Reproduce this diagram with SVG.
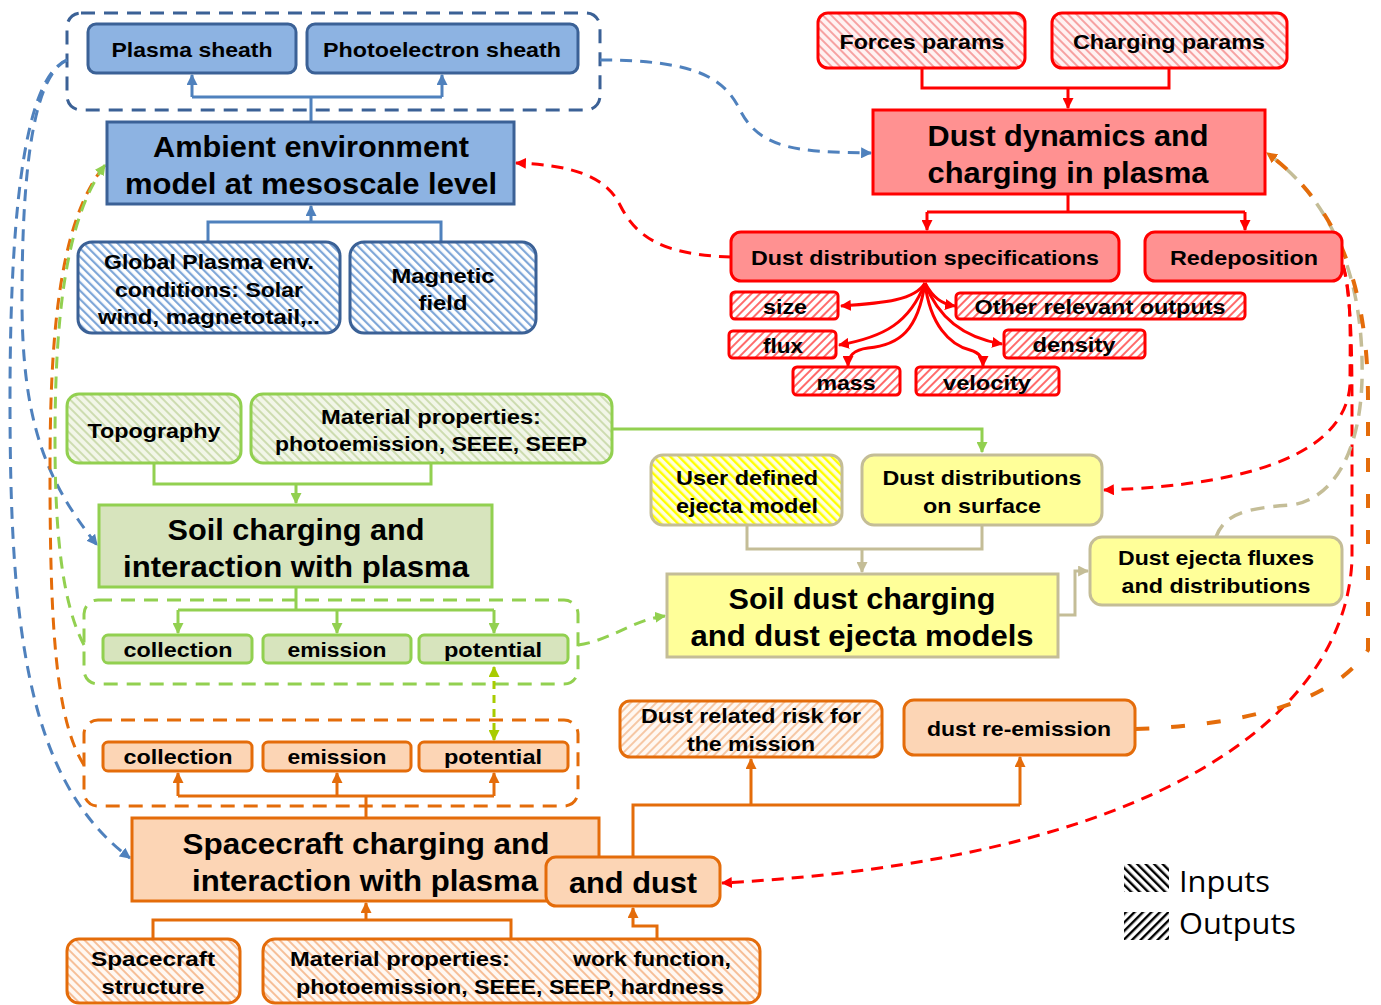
<svg xmlns="http://www.w3.org/2000/svg" width="1381" height="1005" viewBox="0 0 1381 1005">
<style>
text{font-family:"Liberation Sans",Arial,sans-serif;font-weight:bold;fill:#000;text-anchor:middle}
.s{font-size:21px}
.b{font-size:29px}
.lg{font-size:30px;font-weight:normal;text-anchor:start;font-family:"Open Sans","Liberation Sans",sans-serif}
.cb{fill:none;stroke:#4f81bd;stroke-width:3}
.cr{fill:none;stroke:#ff0000;stroke-width:3}
.cg{fill:none;stroke:#92d050;stroke-width:3}
.cy{fill:none;stroke:#c4bd97;stroke-width:3}
.co{fill:none;stroke:#e46c0a;stroke-width:3}
.d{stroke-dasharray:12 8}
.nb{fill:#8db3e2;stroke:#3b6196;stroke-width:3}
.nr{fill:#ff9191;stroke:#ff0000;stroke-width:3}
.ng{fill:#d7e4bd;stroke:#92d050;stroke-width:3}
.ny{fill:#ffff99;stroke:#c4bd97;stroke-width:3}
.no{fill:#fcd5b5;stroke:#e46c0a;stroke-width:3}
</style>
<defs>
<pattern id="ib" width="6" height="6" patternUnits="userSpaceOnUse" patternTransform="rotate(-45)"><rect width="6" height="6" fill="#ffffff"/><rect width="2.2" height="6" fill="#7fa7d8"/></pattern>
<pattern id="ir" width="6" height="6" patternUnits="userSpaceOnUse" patternTransform="rotate(-45)"><rect width="6" height="6" fill="#fff2f2"/><rect width="2" height="6" fill="#f6a2a2"/></pattern>
<pattern id="or" width="6" height="6" patternUnits="userSpaceOnUse" patternTransform="rotate(45)"><rect width="6" height="6" fill="#ffffff"/><rect width="2" height="6" fill="#ff6b6b"/></pattern>
<pattern id="ig" width="6" height="6" patternUnits="userSpaceOnUse" patternTransform="rotate(-45)"><rect width="6" height="6" fill="#f2f6e8"/><rect width="2" height="6" fill="#cddcb0"/></pattern>
<pattern id="iy" width="6" height="6" patternUnits="userSpaceOnUse" patternTransform="rotate(-45)"><rect width="6" height="6" fill="#ffffdd"/><rect width="2.4" height="6" fill="#ffff00"/></pattern>
<pattern id="io" width="6" height="6" patternUnits="userSpaceOnUse" patternTransform="rotate(-45)"><rect width="6" height="6" fill="#fff8f2"/><rect width="2" height="6" fill="#f6bf98"/></pattern>
<pattern id="oo" width="6" height="6" patternUnits="userSpaceOnUse" patternTransform="rotate(45)"><rect width="6" height="6" fill="#fff8f2"/><rect width="2" height="6" fill="#f6c7a4"/></pattern>
<pattern id="li" width="6" height="6" patternUnits="userSpaceOnUse" patternTransform="rotate(-45)"><rect width="6" height="6" fill="#ffffff"/><rect width="2.4" height="6" fill="#000"/></pattern>
<pattern id="lo" width="6" height="6" patternUnits="userSpaceOnUse" patternTransform="rotate(45)"><rect width="6" height="6" fill="#ffffff"/><rect width="2.4" height="6" fill="#000"/></pattern>
<marker id="ab" viewBox="0 0 10 10" refX="9" refY="5" markerWidth="11" markerHeight="11" markerUnits="userSpaceOnUse" orient="auto"><path d="M0,0 L10,5 L0,10 z" fill="#4f81bd"/></marker>
<marker id="ar" viewBox="0 0 10 10" refX="9" refY="5" markerWidth="11" markerHeight="11" markerUnits="userSpaceOnUse" orient="auto"><path d="M0,0 L10,5 L0,10 z" fill="#ff0000"/></marker>
<marker id="ag" viewBox="0 0 10 10" refX="9" refY="5" markerWidth="11" markerHeight="11" markerUnits="userSpaceOnUse" orient="auto"><path d="M0,0 L10,5 L0,10 z" fill="#92d050"/></marker>
<marker id="ay" viewBox="0 0 10 10" refX="9" refY="5" markerWidth="11" markerHeight="11" markerUnits="userSpaceOnUse" orient="auto"><path d="M0,0 L10,5 L0,10 z" fill="#c4bd97"/></marker>
<marker id="ao" viewBox="0 0 10 10" refX="9" refY="5" markerWidth="11" markerHeight="11" markerUnits="userSpaceOnUse" orient="auto"><path d="M0,0 L10,5 L0,10 z" fill="#e46c0a"/></marker>
<marker id="ayg" viewBox="0 0 10 10" refX="9" refY="5" markerWidth="11" markerHeight="11" markerUnits="userSpaceOnUse" orient="auto-start-reverse"><path d="M0,0 L10,5 L0,10 z" fill="#a8cc00"/></marker>
</defs>

<!-- group containers -->
<g id="containers" fill="none" stroke-width="3" stroke-dasharray="14 9">
<rect x="67" y="13" width="533" height="97" rx="14" stroke="#3b6196"/>
<rect x="84" y="600" width="494" height="84" rx="14" stroke="#92d050"/>
<rect x="84" y="720" width="494" height="86" rx="14" stroke="#e46c0a"/>
</g>

<g id="connectors">
<!-- blue solid -->
<path class="cb" d="M311,122 V97 M192,97 H442" />
<path class="cb" d="M192,97 V75" marker-end="url(#ab)"/>
<path class="cb" d="M442,97 V75" marker-end="url(#ab)"/>
<path class="cb" d="M208,242 V222 H441 V242 M311,222 V206" marker-end="url(#ab)"/>
<!-- red solid -->
<path class="cr" d="M922,68 V88 H1169 V68 M1068,88 V108" marker-end="url(#ar)"/>
<path class="cr" d="M1068,194 V212 M927,212 H1245"/>
<path class="cr" d="M927,212 V230" marker-end="url(#ar)"/>
<path class="cr" d="M1245,212 V230" marker-end="url(#ar)"/>
<path class="cr" d="M925,283 C915,300 885,303 841,306" marker-end="url(#ar)"/>
<path class="cr" d="M925,283 C910,322 885,337 839,345" marker-end="url(#ar)"/>
<path class="cr" d="M925,283 C918,330 900,345 868,348 C852,350 848,357 848,366" marker-end="url(#ar)"/>
<path class="cr" d="M925,283 C930,325 950,345 970,350 C980,353 983,358 983,366" marker-end="url(#ar)"/>
<path class="cr" d="M925,283 C938,318 965,338 1002,344" marker-end="url(#ar)"/>
<path class="cr" d="M925,283 C933,298 942,304 955,306" marker-end="url(#ar)"/>
<!-- green solid -->
<path class="cg" d="M154,463 V484 H431 V463 M296,484 V503" marker-end="url(#ag)"/>
<path class="cg" d="M612,429 H982 V452" marker-end="url(#ag)"/>
<path class="cg" d="M296,587 V610 M178,610 H494"/>
<path class="cg" d="M178,610 V633" marker-end="url(#ag)"/>
<path class="cg" d="M337,610 V633" marker-end="url(#ag)"/>
<path class="cg" d="M494,610 V633" marker-end="url(#ag)"/>
<!-- tan solid -->
<path class="cy" d="M747,525 V549 H982 V525 M862,549 V572" marker-end="url(#ay)"/>
<path class="cy" d="M1058,615 H1075 V571 H1088" marker-end="url(#ay)"/>
<!-- orange solid -->
<path class="co" d="M366,818 V796 M178,796 H494"/>
<path class="co" d="M178,796 V773" marker-end="url(#ao)"/>
<path class="co" d="M337,796 V773" marker-end="url(#ao)"/>
<path class="co" d="M494,796 V773" marker-end="url(#ao)"/>
<path class="co" d="M633,857 V805 H1020 M751,805 V759" marker-end="url(#ao)"/>
<path class="co" d="M1020,805 V757" marker-end="url(#ao)"/>
<path class="co" d="M153,939 V920 H511 V939 M366,920 V903" marker-end="url(#ao)"/>
<path class="co" d="M657,939 V926 H633 V908" marker-end="url(#ao)"/>
<!-- dashed -->
<path class="cb d" d="M600,60 C700,60 725,80 740,110 C760,150 800,152 871,153" marker-end="url(#ab)"/>
<path class="cb d" d="M67,60 C35,75 22,160 22,300 C22,420 45,480 97,545" marker-end="url(#ab)"/>
<path class="cb d" d="M67,60 C30,75 10,180 10,400 C10,620 25,780 130,858" marker-end="url(#ab)"/>
<path class="co d" d="M84,765 C55,720 50,620 50,470 C50,330 60,220 105,165"/>
<path class="cg d" d="M84,645 C60,600 55,520 55,440 C55,320 65,220 105,165" marker-end="url(#ag)"/>
<path class="cr d" d="M731,257 C660,255 635,235 620,205 C605,175 570,165 516,163" marker-end="url(#ar)"/>
<path class="cr d" d="M1343,265 C1352,295 1350,340 1350,385 C1345,450 1260,485 1104,490" marker-end="url(#ar)"/>
<path class="cr d" d="M1343,265 C1352,300 1352,360 1352,420 L1352,560 C1345,720 1150,860 722,883" marker-end="url(#ar)"/>
<path fill="none" stroke="#c4bd97" stroke-width="3.5" stroke-dasharray="14 9" d="M1216,537 C1225,512 1250,508 1292,505 C1335,498 1360,450 1362,380 C1364,300 1345,210 1267,153"/>
<path fill="none" stroke="#e46c0a" stroke-width="4" stroke-dasharray="14 22" d="M1135,729 C1250,725 1335,700 1368,650 L1368,400 C1368,300 1345,210 1267,153" marker-end="url(#ao)"/>
<path class="cg d" d="M578,645 C612,640 632,620 665,616" marker-end="url(#ag)"/>
<path fill="none" stroke="#a8cc00" stroke-width="3" stroke-dasharray="8 6" d="M494,667 V740" marker-start="url(#ayg)" marker-end="url(#ayg)"/>
</g>

<!-- blue nodes -->
<g id="plasma-sheath"><rect class="nb" x="88" y="24" width="208" height="49" rx="8"/><text class="s" x="192" y="57" textLength="161" lengthAdjust="spacingAndGlyphs">Plasma sheath</text></g>
<g id="photoelectron-sheath"><rect class="nb" x="307" y="24" width="271" height="49" rx="8"/><text class="s" x="442" y="57" textLength="238" lengthAdjust="spacingAndGlyphs">Photoelectron sheath</text></g>
<g id="ambient"><rect class="nb" x="107" y="122" width="407" height="82"/><text class="b" x="311" y="157" textLength="316" lengthAdjust="spacingAndGlyphs">Ambient environment</text><text class="b" x="311" y="194" textLength="372" lengthAdjust="spacingAndGlyphs">model at mesoscale level</text></g>
<g id="global-plasma"><rect x="78" y="242" width="262" height="91" rx="14" fill="url(#ib)" stroke="#3b6196" stroke-width="3"/><text class="s" x="209" y="269" textLength="210" lengthAdjust="spacingAndGlyphs">Global Plasma env.</text><text class="s" x="209" y="297" textLength="188" lengthAdjust="spacingAndGlyphs">conditions: Solar</text><text class="s" x="209" y="324" textLength="222" lengthAdjust="spacingAndGlyphs">wind, magnetotail,..</text></g>
<g id="magnetic-field"><rect x="350" y="242" width="186" height="91" rx="14" fill="url(#ib)" stroke="#3b6196" stroke-width="3"/><text class="s" x="443" y="283" textLength="103" lengthAdjust="spacingAndGlyphs">Magnetic</text><text class="s" x="443" y="310" textLength="49" lengthAdjust="spacingAndGlyphs">field</text></g>

<!-- red nodes -->
<g id="forces-params"><rect x="818" y="13" width="207" height="55" rx="10" fill="url(#ir)" stroke="#ff0000" stroke-width="3"/><text class="s" x="922" y="49" textLength="165" lengthAdjust="spacingAndGlyphs">Forces params</text></g>
<g id="charging-params"><rect x="1052" y="13" width="235" height="55" rx="10" fill="url(#ir)" stroke="#ff0000" stroke-width="3"/><text class="s" x="1169" y="49" textLength="192" lengthAdjust="spacingAndGlyphs">Charging params</text></g>
<g id="dust-dynamics"><rect class="nr" x="873" y="110" width="392" height="84"/><text class="b" x="1068" y="146" textLength="281" lengthAdjust="spacingAndGlyphs">Dust dynamics and</text><text class="b" x="1068" y="183" textLength="281" lengthAdjust="spacingAndGlyphs">charging in plasma</text></g>
<g id="dust-distribution-spec"><rect class="nr" x="731" y="232" width="388" height="49" rx="10"/><text class="s" x="925" y="265" textLength="348" lengthAdjust="spacingAndGlyphs">Dust distribution specifications</text></g>
<g id="redeposition"><rect class="nr" x="1145" y="232" width="197" height="49" rx="10"/><text class="s" x="1244" y="265" textLength="148" lengthAdjust="spacingAndGlyphs">Redeposition</text></g>
<g id="size"><rect x="731" y="292" width="107" height="27" rx="4" fill="url(#or)" stroke="#ff0000" stroke-width="3"/><text class="s" x="785" y="314" textLength="44" lengthAdjust="spacingAndGlyphs">size</text></g>
<g id="other-outputs"><rect x="956" y="293" width="289" height="26" rx="4" fill="url(#or)" stroke="#ff0000" stroke-width="3"/><text class="s" x="1100" y="314" textLength="251" lengthAdjust="spacingAndGlyphs">Other relevant outputs</text></g>
<g id="flux"><rect x="729" y="331" width="107" height="27" rx="4" fill="url(#or)" stroke="#ff0000" stroke-width="3"/><text class="s" x="783" y="353" textLength="40" lengthAdjust="spacingAndGlyphs">flux</text></g>
<g id="density"><rect x="1004" y="330" width="141" height="28" rx="4" fill="url(#or)" stroke="#ff0000" stroke-width="3"/><text class="s" x="1074" y="352" textLength="83" lengthAdjust="spacingAndGlyphs">density</text></g>
<g id="mass"><rect x="793" y="367" width="107" height="28" rx="4" fill="url(#or)" stroke="#ff0000" stroke-width="3"/><text class="s" x="846" y="390" textLength="59" lengthAdjust="spacingAndGlyphs">mass</text></g>
<g id="velocity"><rect x="916" y="367" width="143" height="28" rx="4" fill="url(#or)" stroke="#ff0000" stroke-width="3"/><text class="s" x="987" y="390" textLength="88" lengthAdjust="spacingAndGlyphs">velocity</text></g>

<!-- green nodes -->
<g id="topography"><rect x="67" y="394" width="174" height="69" rx="12" fill="url(#ig)" stroke="#92d050" stroke-width="3"/><text class="s" x="154" y="438" textLength="133" lengthAdjust="spacingAndGlyphs">Topography</text></g>
<g id="material-soil"><rect x="251" y="394" width="361" height="69" rx="12" fill="url(#ig)" stroke="#92d050" stroke-width="3"/><text class="s" x="431" y="424" textLength="220" lengthAdjust="spacingAndGlyphs">Material properties:</text><text class="s" x="431" y="451" textLength="312" lengthAdjust="spacingAndGlyphs">photoemission, SEEE, SEEP</text></g>
<g id="soil-charging"><rect class="ng" x="99" y="505" width="393" height="82"/><text class="b" x="296" y="540" textLength="257" lengthAdjust="spacingAndGlyphs">Soil charging and</text><text class="b" x="296" y="577" textLength="346" lengthAdjust="spacingAndGlyphs">interaction with plasma</text></g>
<g id="soil-collection"><rect class="ng" x="103" y="635" width="149" height="28" rx="5"/><text class="s" x="178" y="657" textLength="109" lengthAdjust="spacingAndGlyphs">collection</text></g>
<g id="soil-emission"><rect class="ng" x="263" y="635" width="148" height="28" rx="5"/><text class="s" x="337" y="657" textLength="99" lengthAdjust="spacingAndGlyphs">emission</text></g>
<g id="soil-potential"><rect class="ng" x="419" y="635" width="149" height="28" rx="5"/><text class="s" x="493" y="657" textLength="98" lengthAdjust="spacingAndGlyphs">potential</text></g>

<!-- yellow nodes -->
<g id="user-ejecta"><rect x="651" y="455" width="191" height="70" rx="12" fill="url(#iy)" stroke="#c4bd97" stroke-width="3"/><text class="s" x="747" y="485" textLength="142" lengthAdjust="spacingAndGlyphs">User defined</text><text class="s" x="747" y="513" textLength="142" lengthAdjust="spacingAndGlyphs">ejecta model</text></g>
<g id="dust-on-surface"><rect class="ny" x="862" y="455" width="240" height="70" rx="12"/><text class="s" x="982" y="485" textLength="199" lengthAdjust="spacingAndGlyphs">Dust distributions</text><text class="s" x="982" y="513" textLength="118" lengthAdjust="spacingAndGlyphs">on surface</text></g>
<g id="soil-dust-charging"><rect class="ny" x="667" y="574" width="391" height="83"/><text class="b" x="862" y="609" textLength="267" lengthAdjust="spacingAndGlyphs">Soil dust charging</text><text class="b" x="862" y="646" textLength="343" lengthAdjust="spacingAndGlyphs">and dust ejecta models</text></g>
<g id="dust-ejecta-fluxes"><rect class="ny" x="1090" y="537" width="252" height="68" rx="12"/><text class="s" x="1216" y="565" textLength="196" lengthAdjust="spacingAndGlyphs">Dust ejecta fluxes</text><text class="s" x="1216" y="593" textLength="189" lengthAdjust="spacingAndGlyphs">and distributions</text></g>

<!-- orange nodes -->
<g id="sc-collection"><rect class="no" x="103" y="742" width="149" height="29" rx="5"/><text class="s" x="178" y="764" textLength="109" lengthAdjust="spacingAndGlyphs">collection</text></g>
<g id="sc-emission"><rect class="no" x="263" y="742" width="148" height="29" rx="5"/><text class="s" x="337" y="764" textLength="99" lengthAdjust="spacingAndGlyphs">emission</text></g>
<g id="sc-potential"><rect class="no" x="419" y="742" width="149" height="29" rx="5"/><text class="s" x="493" y="764" textLength="98" lengthAdjust="spacingAndGlyphs">potential</text></g>
<g id="spacecraft-charging"><rect class="no" x="132" y="818" width="467" height="83"/><text class="b" x="366" y="854" textLength="367" lengthAdjust="spacingAndGlyphs">Spacecraft charging and</text><text class="b" x="365" y="891" textLength="346" lengthAdjust="spacingAndGlyphs">interaction with plasma</text></g>
<g id="and-dust"><rect class="no" x="546" y="857" width="174" height="49" rx="10"/><text class="b" x="633" y="893" textLength="128" lengthAdjust="spacingAndGlyphs">and dust</text></g>
<g id="dust-risk"><rect x="620" y="701" width="262" height="56" rx="10" fill="url(#oo)" stroke="#e46c0a" stroke-width="3"/><text class="s" x="751" y="723" textLength="220" lengthAdjust="spacingAndGlyphs">Dust related risk for</text><text class="s" x="751" y="751" textLength="128" lengthAdjust="spacingAndGlyphs">the mission</text></g>
<g id="dust-reemission"><rect class="no" x="904" y="700" width="231" height="55" rx="10"/><text class="s" x="1019" y="736" textLength="184" lengthAdjust="spacingAndGlyphs">dust re-emission</text></g>
<g id="sc-structure"><rect x="67" y="939" width="173" height="64" rx="12" fill="url(#io)" stroke="#e46c0a" stroke-width="3"/><text class="s" x="153" y="966" textLength="124" lengthAdjust="spacingAndGlyphs">Spacecraft</text><text class="s" x="153" y="994" textLength="103" lengthAdjust="spacingAndGlyphs">structure</text></g>
<g id="sc-material"><rect x="263" y="939" width="497" height="64" rx="12" fill="url(#io)" stroke="#e46c0a" stroke-width="3"/><text class="s" y="966"><tspan x="400" textLength="220" lengthAdjust="spacingAndGlyphs">Material properties:</tspan><tspan x="652" textLength="158" lengthAdjust="spacingAndGlyphs">work function,</tspan></text><text class="s" x="510" y="994" textLength="428" lengthAdjust="spacingAndGlyphs">photoemission, SEEE, SEEP, hardness</text></g>

<!-- legend -->
<g id="legend">
<rect x="1124" y="864" width="45" height="28" fill="url(#li)"/>
<text class="lg" x="1179" y="892" textLength="91" lengthAdjust="spacingAndGlyphs">Inputs</text>
<rect x="1124" y="912" width="45" height="28" fill="url(#lo)"/>
<text class="lg" x="1179" y="934" textLength="117" lengthAdjust="spacingAndGlyphs">Outputs</text>
</g>
</svg>
